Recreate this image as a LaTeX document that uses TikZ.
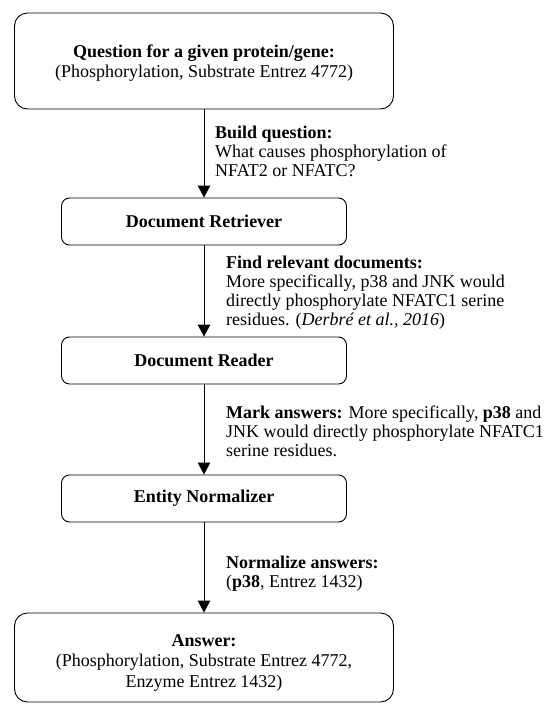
\documentclass[tikz,border=0pt]{standalone}
\usepackage{fontspec}
\setmainfont{Liberation Serif}
\usetikzlibrary{arrows.meta}
\newcommand\toppad[1]{\rule{0pt}{#1}}

\begin{document}
\begin{tikzpicture}[x=1pt,y=-1pt]
\tikzset{
  bigbox/.style={draw,line width=0.9pt,rounded corners=13pt,minimum width=379pt,minimum height=96pt,align=center,font=\fontsize{18}{20.5}\selectfont},
  stagebox/.style={draw,line width=0.9pt,rounded corners=8pt,minimum width=285pt,minimum height=47pt,font=\fontsize{18}{20}\selectfont\bfseries},
  steplabel/.style={anchor=north west,align=left,inner sep=0pt,font=\fontsize{18}{19}\selectfont},
  flow/.style={-{Triangle[length=12pt,width=12.5pt]},line width=0.9pt}
}
\useasboundingbox (0,0) rectangle (547,704);
\node[bigbox] (question) at (204,61) {\toppad{17pt}\textbf{Question for a given protein/gene:}\\(Phosphorylation, Substrate Entrez 4772)};
\node[stagebox] (retriever) at (204,221.5) {Document Retriever};
\node[stagebox] (reader) at (204,360.5) {Document Reader};
\node[stagebox] (normalizer) at (204,498.5) {Entity Normalizer};
\node[bigbox,minimum height=89pt] (answer) at (204,657.5) {\toppad{22pt}\textbf{Answer:}\\(Phosphorylation, Substrate Entrez 4772,\\Enzyme Entrez 1432)};
\draw[flow] (question) -- (retriever);
\draw[flow] (retriever) -- (reader);
\draw[flow] (reader) -- (normalizer);
\draw[flow] (normalizer) -- (answer);
\node[steplabel] (buildlbl) at (215,126) {\textbf{Build question:}\\What causes phosphorylation of\\NFAT2 or NFATC?};
\node[steplabel] (findlbl) at (226,256) {\textbf{Find relevant documents:}\\More specifically, p38 and JNK would\\directly phosphorylate NFATC1 serine\\residues. (\textit{Derbré et al., 2016})};
\node[steplabel] (marklbl) at (226,406) {\textbf{Mark answers:} More specifically, \textbf{p38} and\\JNK would directly phosphorylate NFATC1\\serine residues.};
\node[steplabel] (normlbl) at (226,556) {\textbf{Normalize answers:}\\(\textbf{p38}, Entrez 1432)};
\end{tikzpicture}
\end{document}
